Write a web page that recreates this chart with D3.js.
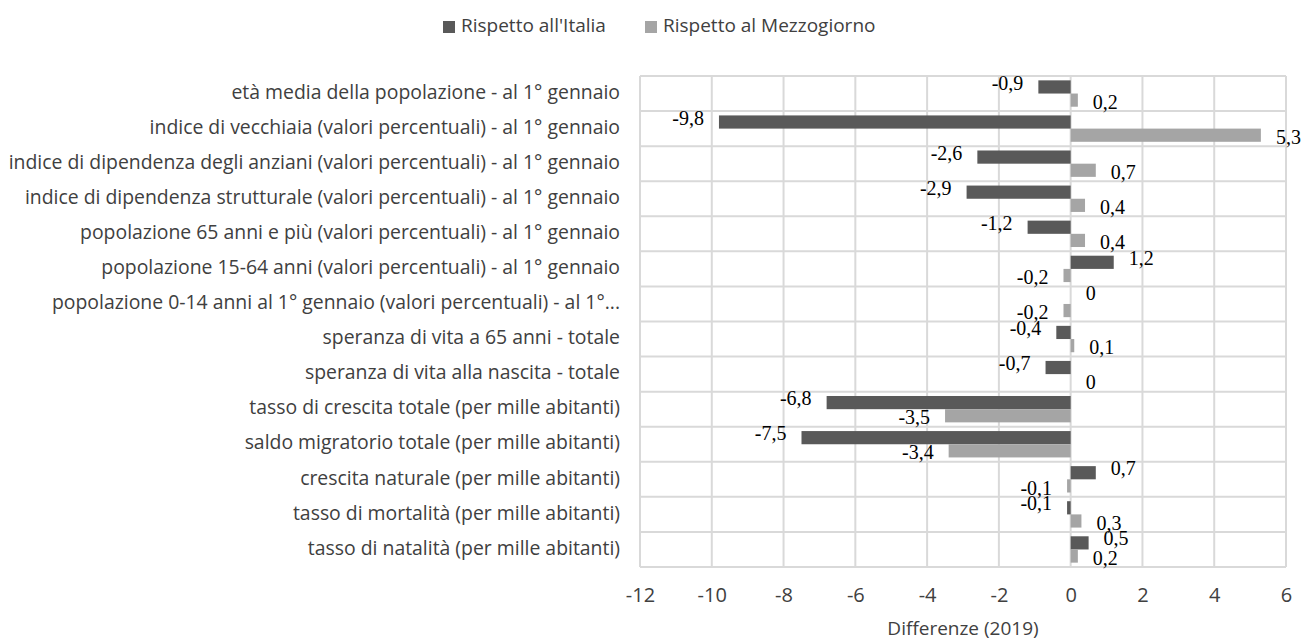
<!DOCTYPE html>
<html>
<head>
<meta charset="utf-8">
<script src="https://cdn.jsdelivr.net/npm/d3@7"></script>
<style>
  body { margin: 0; background: #fff; }
  svg { display: block; }
</style>
</head>
<body>
<div id="chart"></div>
<script>
const WIDTH = 1306
const HEIGHT = 640

const categories = [
  "età media della popolazione - al 1° gennaio",
  "indice di vecchiaia (valori percentuali) - al 1° gennaio",
  "indice di dipendenza degli anziani (valori percentuali) - al 1° gennaio",
  "indice di dipendenza strutturale (valori percentuali) - al 1° gennaio",
  "popolazione 65 anni e più (valori percentuali) - al 1° gennaio",
  "popolazione 15-64 anni (valori percentuali) - al 1° gennaio",
  "popolazione 0-14 anni al 1° gennaio (valori percentuali) - al 1°...",
  "speranza di vita a 65 anni - totale",
  "speranza di vita alla nascita - totale",
  "tasso di crescita totale (per mille abitanti)",
  "saldo migratorio totale (per mille abitanti)",
  "crescita naturale (per mille abitanti)",
  "tasso di mortalità (per mille abitanti)",
  "tasso di natalità (per mille abitanti)"
];
const italia = [-0.9, -9.8, -2.6, -2.9, -1.2, 1.2, 0, -0.4, -0.7, -6.8, -7.5, 0.7, -0.1, 0.5];
const mezzogiorno = [0.2, 5.3, 0.7, 0.4, 0.4, -0.2, -0.2, 0.1, 0, -3.5, -3.4, -0.1, 0.3, 0.2];
const seriesNames = ["Rispetto all'Italia", "Rispetto al Mezzogiorno"];
const xTicks = [-12, -10, -8, -6, -4, -2, 0, 2, 4, 6];
const axisTitle = "Differenze (2019)";

const COLORS = ['#595959', '#a5a5a5'];
const SANS = "'Open Sans', sans-serif";
const SERIF = "'Liberation Serif', 'Times New Roman', serif";
const TEXT_SIZE = "19px";

const plot = { left: 640, right: 1286, top: 76, bottom: 567 };

var svg = d3.select("#chart").append("svg")
    .attr("width", WIDTH)
    .attr("height", HEIGHT);

var xScale = d3.scaleLinear()
    .domain([-12, 6])
    .range([plot.left, plot.right]);

var yScale = d3.scaleBand()
    .domain(categories)
    .range([plot.top, plot.bottom]);

var inner = d3.scaleBand()
    .domain([0, 1])
    .range([0, yScale.bandwidth()])
    .paddingOuter(0.33);

// grid: vertical lines at ticks
svg.append("g")
    .selectAll("line")
    .data(xTicks)
    .enter()
    .append("line")
        .attr("x1", d => xScale(d))
        .attr("x2", d => xScale(d))
        .attr("y1", plot.top)
        .attr("y2", plot.bottom)
        .attr("stroke", "#d9d9d9")
        .attr("stroke-width", 2);

// grid: horizontal lines between categories
const rowEdges = categories.map(c => yScale(c)).concat([plot.bottom]);
svg.append("g")
    .selectAll("line")
    .data(rowEdges)
    .enter()
    .append("line")
        .attr("x1", plot.left)
        .attr("x2", plot.right)
        .attr("y1", d => d)
        .attr("y2", d => d)
        .attr("stroke", "#d9d9d9")
        .attr("stroke-width", 2);

const series = [italia, mezzogiorno];

series.map((values, s) => {
    let g = svg.append("g");
    g.selectAll("rect")
        .data(values)
        .enter()
        .append("rect")
            .attr("x", d => xScale(Math.min(0, d)))
            .attr("width", d => Math.abs(xScale(d) - xScale(0)))
            .attr("y", (d, i) => yScale(categories[i]) + inner(s))
            .attr("height", inner.bandwidth())
            .attr("fill", COLORS[s]);

    g.selectAll("text")
        .data(values)
        .enter()
        .append("text")
            .attr("x", d => d < 0 ? xScale(d) - 15 : xScale(d) + 15)
            .attr("y", (d, i) => yScale(categories[i]) + inner(s) + inner.bandwidth() / 2 + (s === 0 ? -2 : 4))
            .attr("dominant-baseline", "middle")
            .attr("text-anchor", d => d < 0 ? "end" : "start")
            .attr("font-family", SERIF)
            .attr("font-size", "20px")
            .attr("fill", "#000")
            .text(d => String(d).replace(".", ","));
});

// category labels
svg.append("g")
    .selectAll("text")
    .data(categories)
    .enter()
    .append("text")
        .attr("x", 620)
        .attr("y", d => yScale(d) + yScale.bandwidth() / 2)
        .attr("dominant-baseline", "middle")
        .attr("text-anchor", "end")
        .attr("font-family", SANS)
        .attr("font-size", "19.4px")
        .attr("fill", "#404040")
        .text(d => d);

// x axis tick labels
var xAxis = d3.axisBottom(xScale)
    .tickValues(xTicks)
    .tickSize(0)
    .tickPadding(0)
    .tickFormat(d => d);

var axisG = svg.append("g")
    .attr("transform", `translate(0,${plot.bottom})`)
    .call(xAxis);
axisG.select(".domain").remove();
axisG.selectAll("text")
    .attr("y", 28)
    .attr("dy", "0.35em")
    .attr("font-family", SANS)
    .attr("font-size", "20px")
    .attr("fill", "#404040");

svg.append("text")
    .attr("x", (plot.left + plot.right) / 2)
    .attr("y", 630)
    .attr("dominant-baseline", "middle")
    .attr("text-anchor", "middle")
    .attr("font-family", SANS)
    .attr("font-size", TEXT_SIZE)
    .attr("fill", "#404040")
    .text(axisTitle);

// legend
var legendX = [443, 645];
var legendItems = svg.append("g")
    .selectAll("g")
    .data(seriesNames)
    .enter()
    .append("g")
        .attr("transform", (d, i) => `translate(${legendX[i]},27)`);

legendItems.append("rect")
    .attr("y", -6)
    .attr("width", 12)
    .attr("height", 12)
    .attr("fill", (d, i) => COLORS[i]);

legendItems.append("text")
    .attr("x", 18)
    .attr("y", 0)
    .attr("dominant-baseline", "middle")
    .attr("font-family", SANS)
    .attr("font-size", TEXT_SIZE)
    .attr("fill", "#404040")
    .text(d => d);
</script>
</body>
</html>
